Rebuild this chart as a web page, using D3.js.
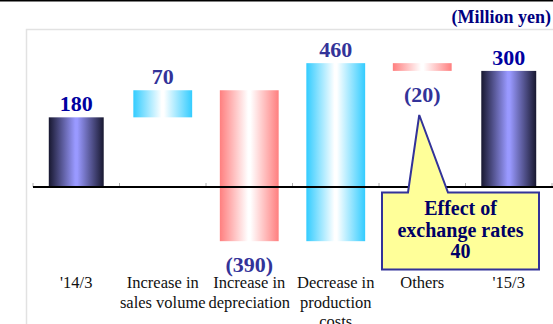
<!DOCTYPE html>
<html>
<head>
<meta charset="utf-8">
<script src="https://cdn.jsdelivr.net/npm/d3@7"></script>
<style>
  html, body { margin: 0; padding: 0; background: #fff; }
  svg { display: block; }
  text { font-family: "Liberation Serif", "Times New Roman", serif; }
</style>
</head>
<body>
<svg id="chart" width="553" height="324"></svg>
<script>
// Operating income bridge, '14/3 -> '15/3 (Million yen)
const categories = ["'14/3", "Increase in sales volume", "Increase in depreciation",
                    "Decrease in production costs", "Others", "'15/3"];
const categoryLines = [["'14/3"], ["Increase in", "sales volume"], ["Increase in", "depreciation"],
                       ["Decrease in", "production", "costs"], ["Others"], ["'15/3"]];
const values = [180, 70, -390, 460, -20, 300];
const kinds = ["total", "change", "change", "change", "change", "total"];
const valueLabels = ["180", "70", "(390)", "460", "(20)", "300"];
const unitLabel = "(Million yen)";
const calloutCategory = "Others";
const calloutLines = ["Effect of", "exchange rates", "40"];

const svg = d3.select("#chart");
const W = 553, H = 324;

// Build waterfall segments
let running = 0;
const bars = categories.map((c, i) => {
  let start, end;
  if (kinds[i] === "total") { start = 0; end = values[i]; running = values[i]; }
  else { start = running; end = running + values[i]; running = end; }
  return { cat: c, value: values[i], kind: kinds[i], start, end, label: valueLabels[i], lines: categoryLines[i] };
});

const x = d3.scaleBand().domain(categories).range([33, 552]).padding(0);
const y = d3.scaleLinear().domain([-150, 350]).range([245.05, 51.55]);

// Gradients
const defs = svg.append("defs");
function hGrad(id, edge, mid) {
  const g = defs.append("linearGradient").attr("id", id)
    .attr("x1", 0).attr("x2", 1).attr("y1", 0).attr("y2", 0);
  g.append("stop").attr("offset", "0%").attr("stop-color", edge);
  g.append("stop").attr("offset", "48%").attr("stop-color", mid);
  g.append("stop").attr("offset", "52%").attr("stop-color", mid);
  g.append("stop").attr("offset", "100%").attr("stop-color", edge);
}
hGrad("gTotal", "#181830", "#9999ff");
hGrad("gUp", "#33ccff", "#ffffff");
hGrad("gDown", "#ff7f7f", "#ffffff");

// Top rule and plot frame
svg.append("line").attr("x1", 0).attr("x2", W).attr("y1", 0.75).attr("y2", 0.75)
  .attr("stroke", "#000").attr("stroke-width", 1.5);
svg.append("path").attr("d", `M26.5,${H + 2} V29.5 H${W + 2}`)
  .attr("fill", "none").attr("stroke", "#e2e2e2").attr("stroke-width", 1.5);

svg.append("text").attr("x", 551).attr("y", 23).attr("text-anchor", "end")
  .attr("font-size", 18).attr("font-weight", "bold").attr("fill", "#000080")
  .text(unitLabel);

// Boundary ticks above the baseline
const y0 = y(0);
const bounds = categories.map(c => x(c)).concat([x.range()[1]]);
svg.append("g").selectAll("line").data(bounds).join("line")
  .attr("x1", d => d).attr("x2", d => d).attr("y1", y0 - 4).attr("y2", y0)
  .attr("stroke", "#b0b0b0").attr("stroke-width", 1);

// Bars
const barW = d => x.bandwidth() * (d.kind === "total" ? 0.635 : 0.68);
svg.append("g").selectAll("rect").data(bars).join("rect")
  .attr("x", d => x(d.cat) + (x.bandwidth() - barW(d)) / 2)
  .attr("width", barW)
  .attr("y", d => y(Math.max(d.start, d.end)))
  .attr("height", d => Math.abs(y(d.start) - y(d.end)))
  .attr("fill", d => d.kind === "total" ? "url(#gTotal)" : (d.value >= 0 ? "url(#gUp)" : "url(#gDown)"));

// Baseline axis with multi-line category labels
const axis = svg.append("g").attr("transform", `translate(0,${y0})`)
  .call(d3.axisBottom(x).tickSize(0).tickPadding(0));
axis.select(".domain").attr("d", `M33,0H${W}`).attr("stroke", "#000").attr("stroke-width", 2);
axis.selectAll(".tick text").each(function(d) {
  const t = d3.select(this);
  const lines = categoryLines[categories.indexOf(d)];
  t.text(null).attr("y", 0).attr("dy", null)
    .attr("font-family", "'Liberation Serif', 'Times New Roman', serif")
    .attr("font-size", 16.5).attr("fill", "#111");
  lines.forEach((ln, k) => {
    t.append("tspan").attr("x", 0).attr("y", 101 + k * 19.6).text(ln);
  });
});

// Value labels
svg.append("g").selectAll("text").data(bars).join("text")
  .attr("x", d => x(d.cat) + x.bandwidth() / 2)
  .attr("y", d => d.value >= 0 ? y(Math.max(d.start, d.end)) - 6 : y(Math.min(d.start, d.end)) + 31)
  .attr("text-anchor", "middle")
  .attr("font-size", 22).attr("font-weight", "bold")
  .attr("fill", d => d.kind === "total" ? "#0000a0" : "#333399")
  .text(d => d.label);

// Callout for the exchange-rate effect, pointing at the Others label
const cx0 = x(calloutCategory);
const boxL = cx0 + 3, boxR = boxL + 157, boxT = 192.5, boxB = 269.5;
const tipX = cx0 + x.bandwidth() / 2 - 3, tipY = 115;
const callout = svg.append("g");
callout.append("path")
  .attr("d", `M${boxL},${boxT} H${boxL + 26} L${tipX},${tipY} L${boxL + 66},${boxT} H${boxR} V${boxB} H${boxL} Z`)
  .attr("fill", "#ffff99").attr("stroke", "#333399").attr("stroke-width", 2)
  .attr("stroke-linejoin", "miter");
callout.selectAll("text").data(calloutLines).join("text")
  .attr("x", (boxL + boxR) / 2).attr("y", (d, i) => 215 + i * 21.7)
  .attr("text-anchor", "middle").attr("font-size", 20).attr("font-weight", "bold")
  .attr("fill", "#000066")
  .text(d => d);
</script>
</body>
</html>
